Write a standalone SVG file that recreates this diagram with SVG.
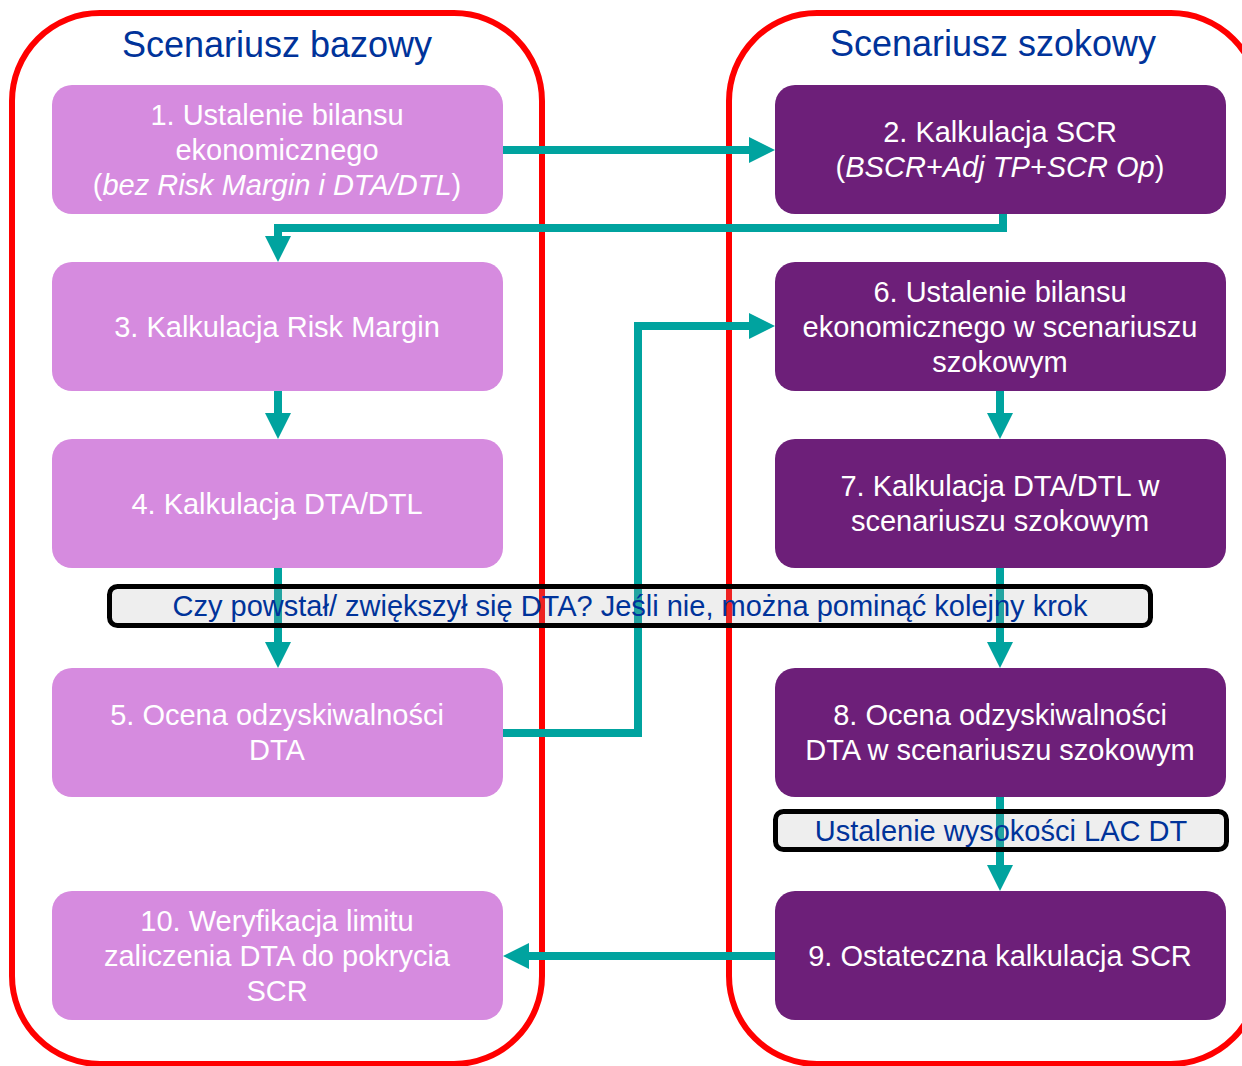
<svg xmlns="http://www.w3.org/2000/svg" width="1242" height="1066" viewBox="0 0 1242 1066">
<style>
.container{fill:none;stroke:#FF0000;stroke-width:6}
.boxL{fill:#D68BDF}
.boxR{fill:#6D1F79}
.t{font-family:"Liberation Sans",Arial,sans-serif;font-size:29px;fill:#FFFFFF;text-anchor:middle}
.title{font-family:"Liberation Sans",Arial,sans-serif;font-size:36px;fill:#00339A;text-anchor:middle}
.conn{fill:none;stroke:#00A39F;stroke-width:8;marker-end:url(#ah)}
.banner{fill:#A8A8A8;fill-opacity:0.2;stroke:#000000;stroke-width:5}
.bt{font-family:"Liberation Sans",Arial,sans-serif;font-size:29px;fill:#00339A;text-anchor:middle}
</style>
<defs>
<marker id="ah" viewBox="0 0 26 26" refX="18" refY="13" markerWidth="26" markerHeight="26" markerUnits="userSpaceOnUse" orient="auto">
<path d="M0,0 L26,13 L0,26 Z" fill="#00A39F"/>
</marker>
</defs>
<g id="containers">
<rect id="base-scenario" class="container" x="12" y="13" width="530" height="1051" rx="88" ry="88"/>
<rect id="shock-scenario" class="container" x="729" y="13" width="530" height="1051" rx="88" ry="88"/>
<text class="title" x="277" y="57">Scenariusz bazowy</text>
<text class="title" x="993" y="56">Scenariusz szokowy</text>
</g>
<g id="n1">
<rect class="boxL" x="52" y="85" width="451" height="129" rx="20"/>
<text class="t" x="277" y="125">1. Ustalenie bilansu</text>
<text class="t" x="277" y="160">ekonomicznego</text>
<text class="t" x="277" y="195">(<tspan font-style="italic">bez Risk Margin i DTA/DTL</tspan>)</text>
</g>
<g id="n2">
<rect class="boxR" x="775" y="85" width="451" height="129" rx="20"/>
<text class="t" x="1000" y="142">2. Kalkulacja SCR</text>
<text class="t" x="1000" y="177">(<tspan font-style="italic">BSCR+Adj TP+SCR Op</tspan>)</text>
</g>
<g id="n3">
<rect class="boxL" x="52" y="262" width="451" height="129" rx="20"/>
<text class="t" x="277" y="337">3. Kalkulacja Risk Margin</text>
</g>
<g id="n4">
<rect class="boxL" x="52" y="439" width="451" height="129" rx="20"/>
<text class="t" x="277" y="514">4. Kalkulacja DTA/DTL</text>
</g>
<g id="n5">
<rect class="boxL" x="52" y="668" width="451" height="129" rx="20"/>
<text class="t" x="277" y="725">5. Ocena odzyskiwalności</text>
<text class="t" x="277" y="760">DTA</text>
</g>
<g id="n6">
<rect class="boxR" x="775" y="262" width="451" height="129" rx="20"/>
<text class="t" x="1000" y="302">6. Ustalenie bilansu</text>
<text class="t" x="1000" y="337">ekonomicznego w scenariuszu</text>
<text class="t" x="1000" y="372">szokowym</text>
</g>
<g id="n7">
<rect class="boxR" x="775" y="439" width="451" height="129" rx="20"/>
<text class="t" x="1000" y="496">7. Kalkulacja DTA/DTL w</text>
<text class="t" x="1000" y="531">scenariuszu szokowym</text>
</g>
<g id="n8">
<rect class="boxR" x="775" y="668" width="451" height="129" rx="20"/>
<text class="t" x="1000" y="725">8. Ocena odzyskiwalności</text>
<text class="t" x="1000" y="760">DTA w scenariuszu szokowym</text>
</g>
<g id="n9">
<rect class="boxR" x="775" y="891" width="451" height="129" rx="20"/>
<text class="t" x="1000" y="966">9. Ostateczna kalkulacja SCR</text>
</g>
<g id="n10">
<rect class="boxL" x="52" y="891" width="451" height="129" rx="20"/>
<text class="t" x="277" y="931">10. Weryfikacja limitu</text>
<text class="t" x="277" y="966">zaliczenia DTA do pokrycia</text>
<text class="t" x="277" y="1001">SCR</text>
</g>
<g id="connectors">
<path class="conn" d="M503,150 H767"/>
<path class="conn" d="M1003,214 V228 H278 V254"/>
<path class="conn" d="M278,391 V431"/>
<path class="conn" d="M278,568 V660"/>
<path class="conn" d="M503,733 H638 V326 H767"/>
<path class="conn" d="M1000,391 V431"/>
<path class="conn" d="M1000,568 V660"/>
<path class="conn" d="M1000,797 V883"/>
<path class="conn" d="M775,956 H511"/>
</g>
<g id="banner-dta">
<rect class="banner" x="109.5" y="586.5" width="1041" height="39" rx="8"/>
<text class="bt" x="630" y="616">Czy powstał/ zwiększył się DTA? Jeśli nie, można pominąć kolejny krok</text>
</g>
<g id="banner-lac">
<rect class="banner" x="775.5" y="811.5" width="451" height="38" rx="8"/>
<text class="bt" x="1001" y="841">Ustalenie wysokości LAC DT</text>
</g>
</svg>
